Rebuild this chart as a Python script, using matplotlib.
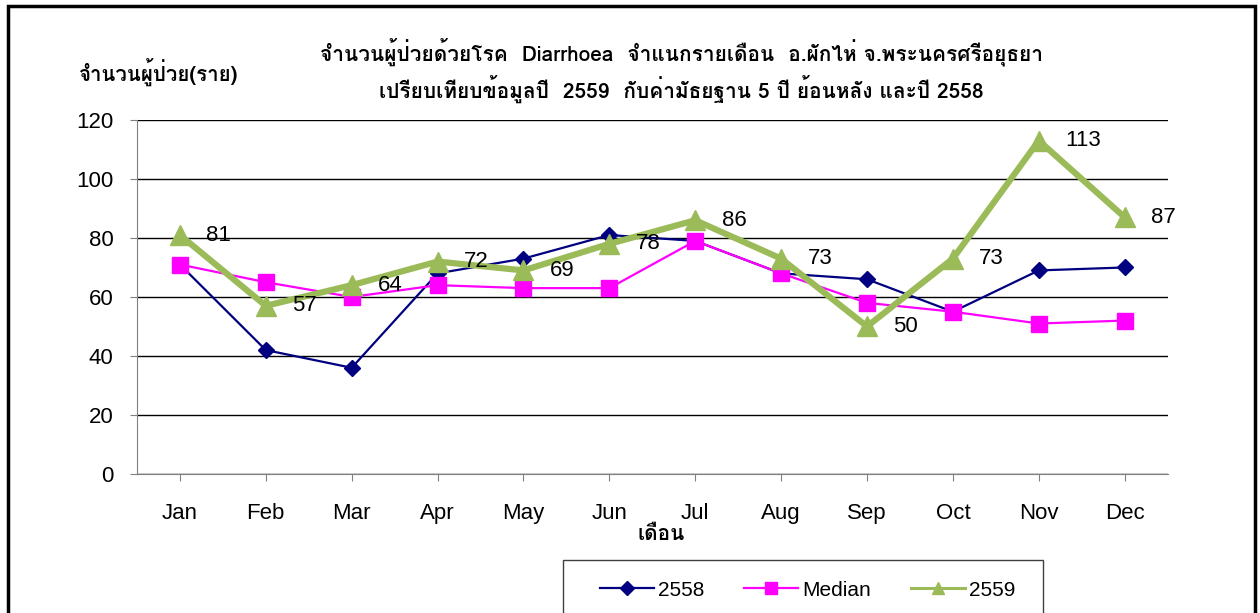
import matplotlib
matplotlib.use('Agg')
import matplotlib.pyplot as plt
from matplotlib import font_manager
from matplotlib.ft2font import FT2Font
from matplotlib.lines import Line2D
from matplotlib.patches import Rectangle

months = ['Jan', 'Feb', 'Mar', 'Apr', 'May', 'Jun',
          'Jul', 'Aug', 'Sep', 'Oct', 'Nov', 'Dec']
y2558 = [71, 42, 36, 68, 73, 81, 79, 68, 66, 55, 69, 70]
median = [71, 65, 60, 64, 63, 63, 79, 68, 58, 55, 51, 52]
y2559 = [81, 57, 64, 72, 69, 78, 86, 73, 50, 73, 113, 87]

title1 = 'จำนวนผู้ป่วยด้วยโรค  Diarrhoea  จำแนกรายเดือน  อ.ผักไห่ จ.พระนครศรีอยุธยา'
title2 = 'เปรียบเทียบข้อมูลปี  2559  กับค่ามัธยฐาน 5 ปี ย้อนหลัง และปี 2558'
ylab = 'จำนวนผู้ป่วย(ราย)'
xlab = 'เดือน'

C_2558 = '#000080'
C_MED = '#FF00FF'
C_2559 = '#9BBB59'

# any installed font that carries Thai glyphs
thai = []
for f in font_manager.fontManager.ttflist:
    try:
        if 0x0E08 in FT2Font(f.fname).get_charmap() and f.name not in thai:
            thai.append(f.name)
    except Exception:
        pass
fams = thai + ['Liberation Sans', 'DejaVu Sans']
plt.rcParams['font.family'] = ['Liberation Sans', 'DejaVu Sans']

W, H = 1260, 613
fig = plt.figure(figsize=(W / 100, H / 100), dpi=100)
ax = fig.add_axes([0.1087, 0.2268, 0.818, 0.5775])
x = list(range(len(months)))

ax.plot(x, y2558, color=C_2558, lw=1.6, marker='D', ms=8.5, zorder=3)
ax.plot(x, median, color=C_MED, lw=1.6, marker='s', ms=11, zorder=3)
ax.plot(x, y2559, color=C_2559, lw=4.5, marker='^', ms=15, zorder=4)
for xi, v in zip(x, y2559):
    ax.annotate(str(v), (xi, v), xytext=(19, 0), textcoords='offset points',
                fontsize=16, ha='left', va='center', zorder=5)

ax.set_xlim(-0.5, 11.5)
ax.set_ylim(0, 120)
ax.set_yticks(range(0, 121, 20))
ax.set_xticks(x)
ax.set_xticklabels(months)
ax.tick_params(axis='both', labelsize=16, length=5, color='#808080')
ax.tick_params(axis='y', pad=12)
ax.tick_params(axis='x', pad=16)
ax.grid(axis='y', color='black', lw=1)
ax.set_axisbelow(True)
for s in ['top', 'right']:
    ax.spines[s].set_visible(False)
for s in ['left', 'bottom']:
    ax.spines[s].set_color('#808080')

fig.text(0.541, 0.915, title1, ha='center', va='center', fontsize=15,
         fontweight='bold', family=fams)
fig.text(0.541, 0.855, title2, ha='center', va='center', fontsize=15,
         fontweight='bold', family=fams)
fig.text(0.126, 0.883, ylab, ha='center', va='center', fontsize=14.7,
         fontweight='bold', family=fams)
fig.text(0.525, 0.128, xlab, ha='center', va='center', fontsize=15,
         fontweight='bold', family=fams)

# legend entries without frame, box drawn separately (runs off the bottom)
handles = [
    Line2D([], [], color=C_2558, lw=1.6, marker='D', ms=7),
    Line2D([], [], color=C_MED, lw=1.6, marker='s', ms=9),
    Line2D([], [], color=C_2559, lw=2.2, marker='^', ms=9),
]
fig.legend(handles, ['2558', 'Median', '2559'], loc='center left',
           bbox_to_anchor=(600 / W, 1 - 590 / H), borderaxespad=0, borderpad=0,
           ncol=3, fontsize=15, frameon=False, columnspacing=1.9,
           handlelength=2.6, handletextpad=0.2)
fig.patches.append(Rectangle((563 / W, -0.05), 480 / W, 0.05 + 1 - 560 / H,
                             transform=fig.transFigure, fill=False,
                             edgecolor='#404040', lw=1))

fig.patches.append(Rectangle((8 / W, -0.05), 1247 / W, 1.04,
                             transform=fig.transFigure, fill=False,
                             edgecolor='black', lw=2.5))

fig.savefig('out.png', dpi=100, facecolor='white')
